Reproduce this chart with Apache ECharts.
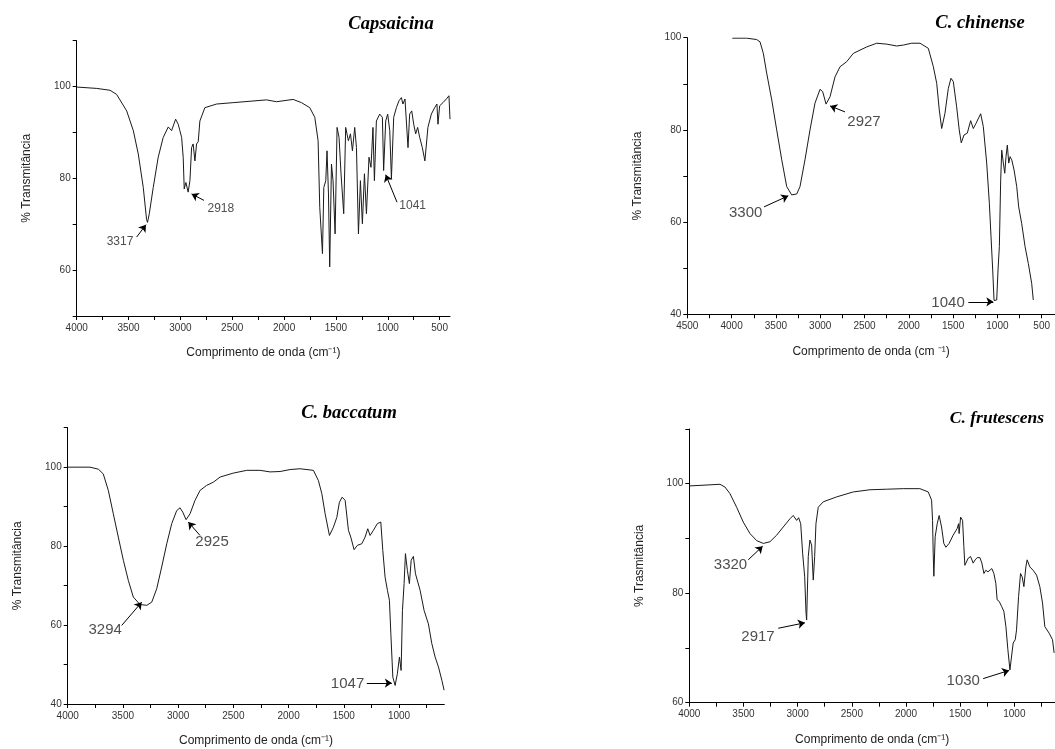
<!DOCTYPE html>
<html>
<head>
<meta charset="utf-8">
<script src="https://cdn.jsdelivr.net/npm/echarts@6/dist/echarts.min.js"></script>
<style>html,body{margin:0;padding:0;background:#fff;}#chart{width:1055px;height:749px;}</style>
</head>
<body>
<div id="chart"></div>
<script>
// ---------- Panel titles ----------
const panelTitles = ['Capsaicina', 'C. chinense', 'C. baccatum', 'C. frutescens'];
const yNames = ['% Transmitância', '% Transmitância', '% Transmitância', '% Trasmitância'];
const xNames = ['Comprimento de onda (cm⁻¹)', 'Comprimento de onda (cm ⁻¹)', 'Comprimento de onda (cm⁻¹)', 'Comprimento de onda (cm⁻¹)'];

// ---------- Capsaicina ----------
const capWn = [4000,3807,3679,3615,3518,3454,3406,3358,3326,3317,3300,3262,3214,3166,3117,3085,3046,3021,3005,2988,2973,2963,2947,2925,2908,2892,2877,2860,2844,2828,2812,2764,2651,2491,2170,2073,1913,1832,1752,1704,1672,1656,1630,1617,1598,1586,1572,1560,1543,1528,1508,1489,1470,1451,1425,1406,1380,1360,1341,1319,1302,1283,1264,1245,1225,1206,1181,1162,1143,1129,1110,1078,1052,1040,1020,1001,981,965,943,917,892,869,854,834,821,805,789,769,750,731,712,692,667,642,613,580,548,526,516,500,468,435,410,404,400];
const capT  = [99.9,99.6,99.2,98.3,94.7,90.4,85.3,78.0,71.0,70.4,72.3,78.0,84.6,88.9,91.2,90.4,92.9,91.8,90.4,88.9,84.6,77.7,79.1,77.0,79.5,86.7,87.5,83.8,87.5,88.0,92.5,95.4,96.2,96.5,97.1,96.7,97.2,96.5,95.4,93.3,88.2,73.7,63.6,78.0,79.5,86.0,76.6,60.7,83.1,79.5,67.9,91.1,88.9,81.0,72.3,91.1,88.2,89.7,86.0,91.1,86.7,67.9,79.5,70.1,81.0,72.3,84.6,82.4,91.1,79.5,92.5,94.0,93.3,81.7,92.5,94.0,90.4,79.9,93.3,95.4,96.9,97.6,96.2,97.3,92.5,86.7,94.0,94.7,91.8,89.7,91.1,88.9,86.7,83.8,91.1,94.0,95.4,96.2,91.8,95.8,96.5,97.3,98.0,98.3,92.9];

// ---------- C. chinense ----------
const chiWn = [3992,3830,3717,3679,3642,3604,3547,3491,3434,3378,3322,3265,3228,3172,3115,3059,3002,2972,2934,2889,2833,2776,2701,2626,2551,2475,2362,2249,2136,2062,1967,1873,1780,1723,1685,1656,1629,1592,1554,1524,1498,1460,1431,1408,1377,1340,1302,1272,1242,1189,1159,1121,1091,1072,1053,1038,1008,993,978,963,951,933,917,903,888,872,857,838,812,782,760,726,688,651,613,595];
const chiT  = [99.9,99.9,99.6,99.1,96.6,92.3,86.5,80.0,73.5,67.7,65.9,66.1,67.7,73.5,80.0,85.8,88.8,88.3,85.6,87.2,91.5,93.7,94.8,96.6,97.3,98.0,98.8,98.6,98.2,98.4,98.8,98.8,97.7,93.7,90.1,84.3,80.3,83.6,89.0,91.2,90.5,85.0,80.0,77.2,78.9,79.3,82.0,80.3,81.4,83.5,80.7,72.8,64.1,56.8,49.6,43.0,43.1,49.6,54.7,69.1,75.6,72.8,70.6,74.2,76.7,72.8,74.2,73.5,71.3,67.7,63.3,59.7,54.7,51.0,46.7,43.1];

// ---------- C. baccatum ----------
const bacWn = [4000,3798,3723,3678,3632,3587,3542,3496,3451,3406,3345,3284,3239,3194,3149,3103,3058,3013,2983,2958,2928,2892,2847,2802,2741,2681,2620,2500,2379,2258,2167,2077,1986,1896,1775,1730,1699,1669,1630,1594,1563,1540,1515,1488,1458,1437,1407,1377,1337,1307,1283,1262,1232,1196,1165,1147,1126,1105,1087,1074,1056,1035,1015,996,981,969,954,942,924,906,890,870,851,833,809,794,773,734,703,673,643,612,592];
const bacT  = [100,100,99.5,98.3,94.1,88.2,82.3,76.4,71.3,67.1,65.2,65.0,65.8,69.2,74.7,80.6,85.7,89.0,89.7,88.6,86.7,88.2,91.6,94.1,95.4,96.2,97.5,98.5,99.2,99.2,98.8,98.9,99.4,99.6,99.2,96.6,93.3,88.2,82.7,84.8,87.3,91.1,92.4,91.6,84.0,82.3,79.1,80.2,80.6,82.3,84.4,82.7,84.0,85.7,86.1,78.9,72.1,68.8,66.3,57.8,46.8,44.7,47.7,51.9,48.5,63.7,70.5,78.1,73.8,70.5,76.4,77.4,73.0,72.6,68.8,69.2,63.7,60.3,55.3,51.9,49.4,46.0,43.5];

// ---------- C. frutescens ----------
const fruWn = [4000,3901,3809,3717,3671,3625,3563,3502,3440,3378,3317,3256,3194,3133,3071,3041,3009,2991,2972,2954,2935,2923,2917,2902,2887,2871,2856,2843,2831,2810,2764,2640,2487,2333,2179,2026,1872,1795,1764,1755,1749,1743,1731,1712,1694,1672,1651,1632,1602,1565,1528,1515,1510,1496,1478,1466,1457,1441,1426,1404,1380,1362,1343,1318,1300,1281,1263,1244,1226,1208,1189,1171,1159,1140,1118,1097,1078,1060,1041,1029,1011,992,980,961,943,928,912,894,882,857,827,795,765,740,719,679,648,633];
const fruT  = [99.6,99.7,99.8,99.9,99.4,98.2,95.7,93.0,90.9,89.6,89.1,89.4,90.6,92.1,93.6,94.2,93.3,93.8,92.7,87.3,83.0,76.5,75.1,86.7,89.7,88.8,82.4,86.7,92.7,95.7,96.7,97.6,98.5,98.9,99.0,99.1,99.1,98.5,97.0,93.3,87.3,83.1,90.3,92.7,94.2,92.1,89.1,88.4,89.1,90.6,91.8,92.7,90.9,93.9,93.3,88.5,85.1,84.8,86.4,86.7,85.5,86.1,86.5,86.5,85.5,83.6,84.2,83.9,84.2,84.5,83.6,81.8,78.8,78.5,77.6,76.7,73.9,69.7,66.0,66.3,70.9,71.5,73.3,79.4,83.6,83.0,81.2,84.8,86.1,84.8,84.2,83.3,81.2,78.2,73.9,72.7,71.5,69.1];

// ---------- Tick values ----------
const xTicks1 = [500,750,1000,1250,1500,1750,2000,2250,2500,2750,3000,3250,3500,3750,4000];
const xLabels1 = [500,1000,1500,2000,2500,3000,3500,4000];
const xTicks2 = [500,750,1000,1250,1500,1750,2000,2250,2500,2750,3000,3250,3500,3750,4000,4250,4500];
const xLabels2 = [500,1000,1500,2000,2500,3000,3500,4000,4500];
const xTicks3 = [750,1000,1250,1500,1750,2000,2250,2500,2750,3000,3250,3500,3750,4000];
const xLabels3 = [1000,1500,2000,2500,3000,3500,4000];
const yTicks1 = [50,60,70,80,90,100,110];
const yLabels1 = [60,80,100];
const yTicks2 = [40,50,60,70,80,90,100];
const yLabels2 = [40,60,80,100];
const yTicks3 = [40,50,60,70,80,90,100,110];
const yTicks4 = [60,70,80,90,100,110];

// ---------- Peak annotations: [label, textWn, textT, tailWn, tailT, headWn, headT] ----------
const capNotes = [['3317',3582,66.2,3422,67.2,3332,69.9],['2918',2610,73.4,2773,75.2,2892,76.6],['1041',760,74.1,911,74.8,1020,80.8]];
const chiNotes = [['3300',3841,61.9,3634,63.3,3360,65.7],['2927',2506,81.7,2720,83.9,2889,85.2],['1040',1557,42.4,1328,42.7,1046,42.7]];
const bacNotes = [['3294',3661,58.7,3511,59.9,3330,65.8],['2925',2693,81.0,2802,82.7,2908,86.1],['1047',1466,45.2,1292,45.3,1065,45.3]];
const fruNotes = [['3320',3620,85.1,3456,86.1,3323,88.6],['2917',3366,72.1,3179,73.6,2933,74.6],['1030',1472,63.9,1288,64.4,1048,65.9]];

const panels = [
  {wn: capWn, t: capT, notes: capNotes, grid:{left:76.7, top:40.7, width:373.3, height:275.3}, x:[400,4000], y:[50,110], xt:xTicks1, xl:xLabels1, yt:yTicks1, yl:yLabels1, noteSize:12},
  {wn: chiWn, t: chiT, notes: chiNotes, grid:{left:687.3, top:37.7, width:367.7, height:276.6}, x:[350,4500], y:[40,100], xt:xTicks2, xl:xLabels2, yt:yTicks2, yl:yLabels2, noteSize:15},
  {wn: bacWn, t: bacT, notes: bacNotes, grid:{left:67.7, top:427.7, width:376.6, height:276.3}, x:[590,4000], y:[40,110], xt:xTicks3, xl:xLabels3, yt:yTicks3, yl:yLabels2, noteSize:15},
  {wn: fruWn, t: fruT, notes: fruNotes, grid:{left:689.3, top:429, width:365.7, height:273.7}, x:[625,4000], y:[60,110], xt:xTicks3, xl:xLabels3, yt:yTicks4, yl:yLabels1, noteSize:15}
];

const titlePos = [[386,10],[975,9],[344,399],[992,404]];

const grids = [], xAxes = [], yAxes = [], series = [], titles = [];
const tickFont = {fontFamily:'Liberation Sans, Arial, sans-serif', fontSize:10, color:'#333'};
const plain = v => String(v);
panels.forEach((p, i) => {
  grids.push(Object.assign({containLabel:false}, p.grid));
  titles.push({text: panelTitles[i], left: titlePos[i][0], top: titlePos[i][1], textAlign:'center',
    textStyle:{fontFamily:'Liberation Serif, Times New Roman, serif', fontStyle:'italic', fontWeight:'bold', fontSize: i === 3 ? 17.5 : 18.5, color:'#000'}});
  xAxes.push({type:'value', gridIndex:i, inverse:true, min:p.x[0], max:p.x[1],
    name: xNames[i], nameLocation:'middle', nameGap:31,
    nameTextStyle:{fontFamily:'Liberation Sans, Arial, sans-serif', fontSize:12, color:'#222'},
    axisLine:{show:true, onZero:false, lineStyle:{color:'#000', width:1}},
    axisTick:{show:true, length:4, customValues:p.xt, lineStyle:{color:'#000'}},
    axisLabel:{customValues:p.xl, margin:7, formatter:plain, ...tickFont},
    splitLine:{show:false}});
  yAxes.push({type:'value', gridIndex:i, min:p.y[0], max:p.y[1],
    name: yNames[i], nameLocation:'middle', nameGap:44, nameRotate:90,
    nameTextStyle:{fontFamily:'Liberation Sans, Arial, sans-serif', fontSize:12, color:'#222'},
    axisLine:{show:true, onZero:false, lineStyle:{color:'#000', width:1}},
    axisTick:{show:true, length:4, customValues:p.yt, lineStyle:{color:'#000'}},
    axisLabel:{customValues:p.yl, margin:6, formatter:plain, ...tickFont},
    splitLine:{show:false}});
  series.push({type:'line', xAxisIndex:i, yAxisIndex:i, showSymbol:false, symbol:'none',
    data: p.wn.map((w, k) => [w, p.t[k]]),
    lineStyle:{color:'#1a1a1a', width:1}, animation:false,
    markLine:{silent:true, symbol:['none','arrow'], symbolSize:7, animation:false,
      lineStyle:{color:'#000', width:1, type:'solid'}, label:{show:false},
      data: p.notes.map(n => [{coord:[n[3], n[4]]}, {coord:[n[5], n[6]]}])}});
  series.push({type:'scatter', xAxisIndex:i, yAxisIndex:i, symbolSize:0, animation:false, silent:true,
    data: p.notes.map(n => ({value:[n[1], n[2]], name:n[0]})),
    label:{show:true, position:'inside', formatter:(d)=>d.name,
      fontFamily:'Liberation Sans, Arial, sans-serif', fontSize:p.noteSize, color:'#222'}});
});

const chart = echarts.init(document.getElementById('chart'), null, {renderer:'canvas'});
chart.setOption({backgroundColor:'#fff', animation:false, title:titles, grid:grids, xAxis:xAxes, yAxis:yAxes, series:series});
</script>
</body>
</html>
